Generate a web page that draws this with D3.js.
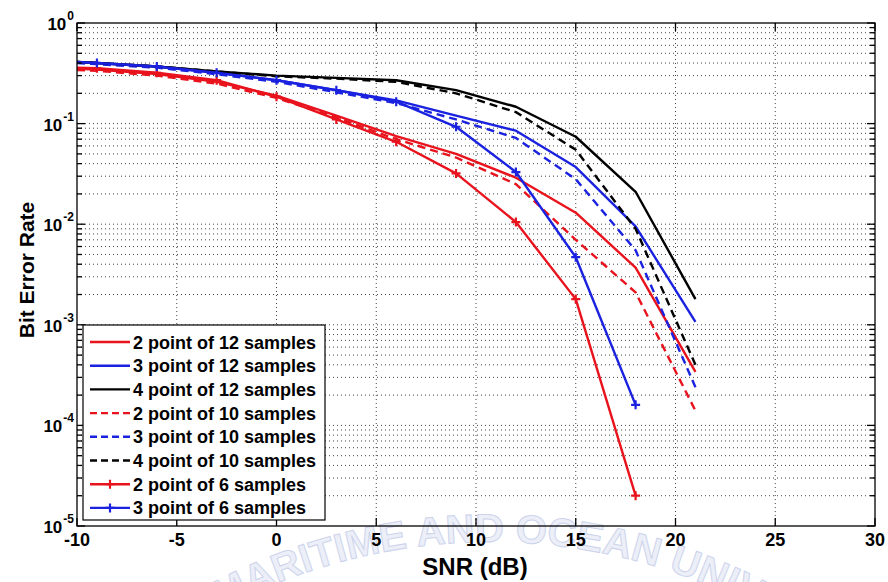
<!DOCTYPE html>
<html>
<head>
<meta charset="utf-8">
<script src="https://cdn.jsdelivr.net/npm/d3@7"></script>
<style>
html,body{margin:0;padding:0;background:#fff;}
svg{display:block;}
text{font-family:"Liberation Sans",Arial,sans-serif;font-weight:bold;}
</style>
</head>
<body>
<svg id="chart" width="888" height="582"></svg>
<script>
// ---------- data ----------
const snr  = [-10, -9, -6, -3, 0, 3, 6, 9, 12, 15, 18, 21];
const snr6 = [-10, -9, -6, -3, 0, 3, 6, 9, 12, 15, 18];

const ber2pt12 = [0.35, 0.345, 0.31, 0.26, 0.19, 0.12, 0.075, 0.05, 0.029, 0.013, 0.0037, 0.00034];
const ber3pt12 = [0.41, 0.40, 0.37, 0.32, 0.27, 0.215, 0.17, 0.12, 0.085, 0.037, 0.0095, 0.00107];
const ber4pt12 = [0.41, 0.40, 0.37, 0.33, 0.30, 0.285, 0.27, 0.215, 0.147, 0.074, 0.021, 0.0018];
const ber2pt10 = [0.34, 0.335, 0.30, 0.25, 0.18, 0.115, 0.07, 0.046, 0.025, 0.007, 0.0021, 0.00014];
const ber3pt10 = [0.40, 0.39, 0.36, 0.31, 0.26, 0.205, 0.16, 0.11, 0.072, 0.028, 0.0055, 0.00024];
const ber4pt10 = [0.41, 0.40, 0.37, 0.33, 0.295, 0.28, 0.26, 0.20, 0.13, 0.055, 0.009, 0.0004];
const ber2pt6  = [0.36, 0.355, 0.32, 0.27, 0.185, 0.11, 0.066, 0.032, 0.0105, 0.0018, 0.00002];
const ber3pt6  = [0.41, 0.40, 0.37, 0.32, 0.27, 0.215, 0.165, 0.093, 0.033, 0.0047, 0.00016];

const seriesNames = ["2 point of 12 samples","3 point of 12 samples","4 point of 12 samples",
  "2 point of 10 samples","3 point of 10 samples","4 point of 10 samples",
  "2 point of 6 samples","3 point of 6 samples"];

const xTicks = [-10, -5, 0, 5, 10, 15, 20, 25, 30];
const yExps  = [0, -1, -2, -3, -4, -5];
const watermark = "MARITIME AND OCEAN UNIVERSITY";

// ---------- styles ----------
const RED = "#e8131d", BLUE = "#1a22e0", BLACK = "#000";
const series = [
  {name: seriesNames[0], x: snr,  y: ber2pt12, color: RED,   dash: null, marker: false},
  {name: seriesNames[1], x: snr,  y: ber3pt12, color: BLUE,  dash: null, marker: false},
  {name: seriesNames[2], x: snr,  y: ber4pt12, color: BLACK, dash: null, marker: false},
  {name: seriesNames[3], x: snr,  y: ber2pt10, color: RED,   dash: "8,5", marker: false},
  {name: seriesNames[4], x: snr,  y: ber3pt10, color: BLUE,  dash: "8,5", marker: false},
  {name: seriesNames[5], x: snr,  y: ber4pt10, color: BLACK, dash: "8,5", marker: false},
  {name: seriesNames[6], x: snr6, y: ber2pt6,  color: RED,   dash: null, marker: true},
  {name: seriesNames[7], x: snr6, y: ber3pt6,  color: BLUE,  dash: null, marker: true}
];

const svg = d3.select("#chart");
const L = 77, R = 875, T = 23, B = 526;
const x = d3.scaleLinear().domain([-10, 30]).range([L, R]);
const y = d3.scaleLog().domain([1e-5, 1]).range([B, T]);

// ---------- watermark (faint arched text at the bottom) ----------
const defs = svg.append("defs");
defs.append("path").attr("id", "wmArc")
  .attr("d", "M -80 1112 A 570 570 0 0 1 1060 1112");
svg.append("text")
  .attr("font-size", 40).attr("fill", "#eceff8").attr("stroke", "#cdd4ec").attr("stroke-width", 1)
  .append("textPath").attr("href", "#wmArc").attr("startOffset", 615)
  .text(watermark);

// ---------- grid ----------
const grid = svg.append("g").attr("stroke", "#444").attr("stroke-width", 1).attr("stroke-dasharray", "1,3");
xTicks.slice(1, -1).forEach(v => {
  grid.append("line").attr("x1", x(v)).attr("x2", x(v)).attr("y1", T).attr("y2", B);
});
const minorY = [];
for (let e = -5; e < 0; e++) for (let m = 1; m <= 9; m++) minorY.push(m * Math.pow(10, e));
minorY.filter(v => v > 1e-5).forEach(v => {
  grid.append("line").attr("x1", L).attr("x2", R).attr("y1", y(v)).attr("y2", y(v));
});

// ---------- curves ----------
const clip = defs.append("clipPath").attr("id", "plotClip");
clip.append("rect").attr("x", L).attr("y", T).attr("width", R - L).attr("height", B - T);
const line = d3.line().x(d => x(d[0])).y(d => y(d[1]));
const plot = svg.append("g").attr("clip-path", "url(#plotClip)");
const plusPath = s => `M${-s},0H${s}M0,${-s}V${s}`;
series.forEach(s => {
  const pts = s.x.map((v, i) => [v, s.y[i]]);
  plot.append("path").datum(pts).attr("d", line)
    .attr("fill", "none").attr("stroke", s.color).attr("stroke-width", 2.4)
    .attr("stroke-linejoin", "round")
    .attr("stroke-dasharray", s.dash);
  if (s.marker) {
    svg.append("g").selectAll("path").data(pts.slice(1)).join("path")
      .attr("transform", d => `translate(${x(d[0])},${y(d[1])})`)
      .attr("d", plusPath(4.5)).attr("stroke", s.color).attr("stroke-width", 2.2).attr("fill", "none");
  }
});

// ---------- axes box & ticks ----------
const ax = svg.append("g").attr("stroke", "#000").attr("stroke-width", 1.3);
ax.append("rect").attr("x", L).attr("y", T).attr("width", R - L).attr("height", B - T).attr("fill", "none");
xTicks.forEach(v => {
  ax.append("line").attr("x1", x(v)).attr("x2", x(v)).attr("y1", B).attr("y2", B - 8);
  ax.append("line").attr("x1", x(v)).attr("x2", x(v)).attr("y1", T).attr("y2", T + 8);
});
yExps.forEach(e => {
  const yy = y(Math.pow(10, e));
  ax.append("line").attr("x1", L).attr("x2", L + 8).attr("y1", yy).attr("y2", yy);
  ax.append("line").attr("x1", R).attr("x2", R - 8).attr("y1", yy).attr("y2", yy);
});
minorY.filter(v => v > 1e-5 && Math.abs(Math.log10(v) % 1) > 1e-9).forEach(v => {
  const yy = y(v);
  ax.append("line").attr("x1", L).attr("x2", L + 5).attr("y1", yy).attr("y2", yy);
  ax.append("line").attr("x1", R).attr("x2", R - 5).attr("y1", yy).attr("y2", yy);
});

// tick labels
svg.append("g").selectAll("text").data(xTicks).join("text")
  .attr("x", d => x(d)).attr("y", B + 20).attr("text-anchor", "middle")
  .attr("font-size", 18).text(d => d);
const yl = svg.append("g").selectAll("text").data(yExps).join("text")
  .attr("y", d => y(Math.pow(10, d)) + 7).attr("font-size", 17);
yl.append("tspan").text("10");
yl.append("tspan").attr("dx", 1).attr("dy", -10).attr("font-size", 12).text(d => d);
yl.each(function() {
  const w = this.getComputedTextLength();
  d3.select(this).attr("x", 73 - w);
});

// axis labels
svg.append("text").attr("x", 475).attr("y", 575).attr("text-anchor", "middle")
  .attr("font-size", 24).text("SNR (dB)");
svg.append("text").attr("transform", `translate(34,270) rotate(-90)`)
  .attr("text-anchor", "middle").attr("font-size", 21).text("Bit Error Rate");

// ---------- legend ----------
const lg = svg.append("g");
lg.append("rect").attr("x", 83).attr("y", 325).attr("width", 242).attr("height", 195)
  .attr("fill", "#fff").attr("stroke", "#000").attr("stroke-width", 1.2);
series.forEach((s, i) => {
  const yy = 342 + i * 23.7;
  lg.append("line").attr("x1", 90).attr("x2", 130).attr("y1", yy).attr("y2", yy)
    .attr("stroke", s.color).attr("stroke-width", 2.4).attr("stroke-dasharray", s.dash ? "7,4" : null);
  if (s.marker) {
    lg.append("path").attr("transform", `translate(110,${yy})`).attr("d", plusPath(4.5))
      .attr("stroke", s.color).attr("stroke-width", 2.2);
  }
  lg.append("text").attr("x", 133).attr("y", yy + 6.5).attr("font-size", 18).text(s.name);
});
</script>
</body>
</html>
